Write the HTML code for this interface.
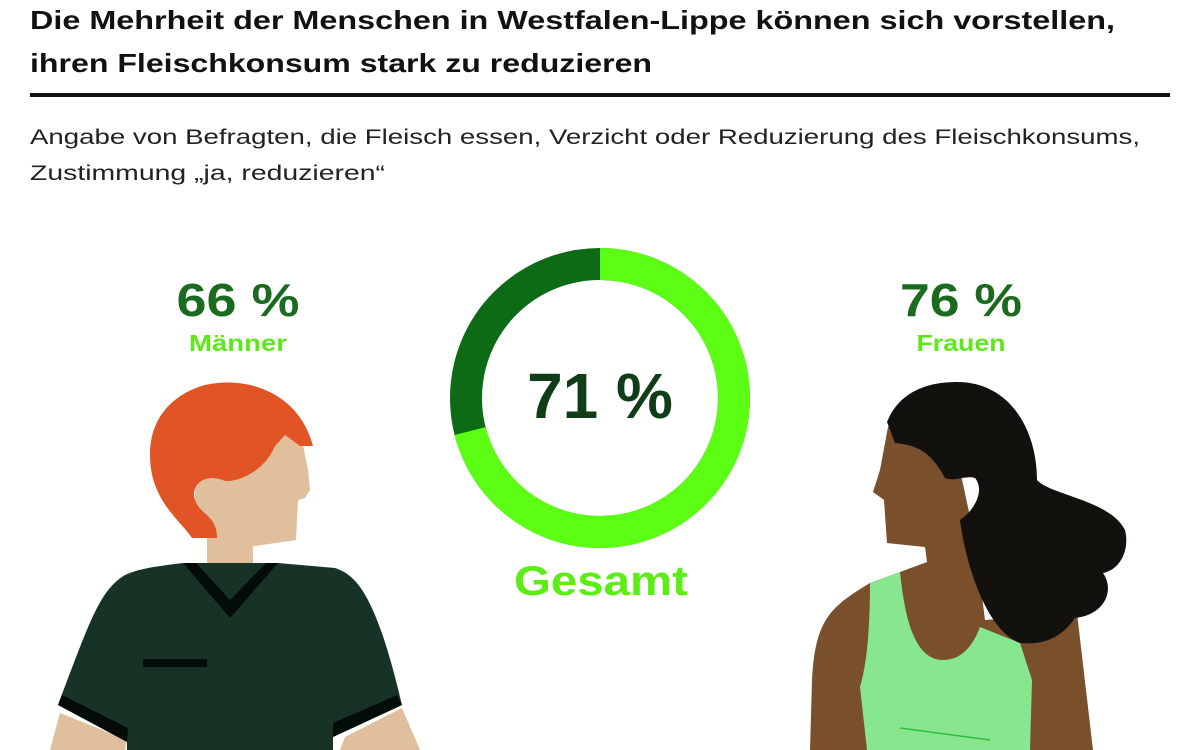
<!DOCTYPE html>
<html><head><meta charset="utf-8"><style>
body{margin:0;width:1200px;height:750px;overflow:hidden;background:#fff;font-family:"Liberation Sans",sans-serif}
</style></head><body>
<svg width="1200" height="750" viewBox="0 0 1200 750" xmlns="http://www.w3.org/2000/svg" style="position:absolute;left:0;top:0">
<text x="30" y="29" font-size="26" font-weight="bold" fill="#111" textLength="1085" lengthAdjust="spacingAndGlyphs">Die Mehrheit der Menschen in Westfalen-Lippe können sich vorstellen,</text>
<text x="30" y="72" font-size="26" font-weight="bold" fill="#111" textLength="622" lengthAdjust="spacingAndGlyphs">ihren Fleischkonsum stark zu reduzieren</text>
<rect x="30" y="93" width="1140" height="4" fill="#111"/>
<text x="30" y="144" font-size="21" fill="#222" textLength="1110" lengthAdjust="spacingAndGlyphs">Angabe von Befragten, die Fleisch essen, Verzicht oder Reduzierung des Fleischkonsums,</text>
<text x="30" y="180" font-size="21" fill="#222" textLength="355" lengthAdjust="spacingAndGlyphs">Zustimmung „ja, reduzieren“</text>

<text x="238" y="316" font-size="46" font-weight="bold" fill="#1b6b1e" text-anchor="middle" textLength="123" lengthAdjust="spacingAndGlyphs">66 %</text>
<text x="238" y="351" font-size="23" font-weight="bold" fill="#5ee81c" text-anchor="middle" textLength="98" lengthAdjust="spacingAndGlyphs">Männer</text>
<text x="961" y="316" font-size="46" font-weight="bold" fill="#1b6b1e" text-anchor="middle" textLength="122" lengthAdjust="spacingAndGlyphs">76 %</text>
<text x="961" y="351" font-size="23" font-weight="bold" fill="#5ee81c" text-anchor="middle" textLength="89" lengthAdjust="spacingAndGlyphs">Frauen</text>

<circle cx="600" cy="398" r="134" fill="none" stroke="#0d6b16" stroke-width="32"/>
<circle cx="600" cy="398" r="134" fill="none" stroke="#5cff14" stroke-width="32" stroke-dasharray="597.8 1000" transform="rotate(-90 600 398)"/>
<text x="600" y="418" font-size="64" font-weight="bold" fill="#0e3d18" text-anchor="middle">71 %</text>
<text x="601" y="595" font-size="42" font-weight="bold" fill="#5cee14" text-anchor="middle" textLength="174" lengthAdjust="spacingAndGlyphs">Gesamt</text>

<!-- Man -->
<path d="M60,713 L127,740 L125,750 L50,750 Z" fill="#dfbf9c"/>
<path d="M345,737 L402,708 L420,750 L340,750 Z" fill="#dfbf9c"/>
<path d="M207,535 L253,535 L253,567 L207,567 Z" fill="#dfbf9c"/>
<path d="M195,440 L300,430 L308,470 L310,490 L305,498 L298,500 L296,540 L255,546 L215,548 L195,520 Z" fill="#dfbf9c"/>
<path d="M217,538 L192,538 C180,520 150,500 150,455 C150,420 170,395 205,385 C250,375 300,395 313,446 L300,446 L285,435 L275,446 C265,470 240,482 225,481 C205,472 190,485 195,500 C200,515 217,515 217,538 Z" fill="#e05425"/>
<path d="M183,563 L278,563 L335,568 C355,575 375,590 402,705 L333,737 L333,750 L127,750 L127,740 L58,705 C90,620 100,590 125,575 C140,568 160,566 183,563 Z" fill="#173326"/>
<path d="M183,563 L230,618 L278,563 L266,563 L230,600 L196,563 Z" fill="#030c06"/>
<path d="M58,705 L62,695 L128,728 L127,742 Z" fill="#030c06"/>
<path d="M402,705 L397,695 L333,723 L333,737 Z" fill="#030c06"/>
<rect x="143" y="659" width="64" height="8" fill="#030c06"/>

<!-- Woman -->
<path d="M888,427 C895,420 940,430 960,470 L975,540 L985,620 L1077,613 L1093,750 L810,750 L812,680 C815,620 830,607 870,583 L900,572 L927,562 L925,547 L887,543 L884,500 L873,492 L880,470 Z" fill="#7a4f2c"/>
<path d="M870,583 L900,572 C905,620 915,660 943,660 C965,660 975,640 980,627 L1020,643 L1032,680 L1030,750 L867,750 L860,687 C868,660 870,620 870,583 Z" fill="#88e68e"/>
<line x1="900" y1="728" x2="990" y2="740" stroke="#2fbf3f" stroke-width="1.5"/>
<path d="M887,422 C900,390 930,382 957,382 C1010,382 1037,430 1037,480 C1050,495 1110,500 1125,530 C1130,550 1120,570 1103,573 C1115,590 1105,615 1075,618 C1060,640 1040,645 1020,643 C985,630 965,560 960,520 C975,510 985,490 975,478 C965,475 955,482 945,478 C930,450 915,445 895,443 Z" fill="#12110e"/>
</svg>
</body></html>
